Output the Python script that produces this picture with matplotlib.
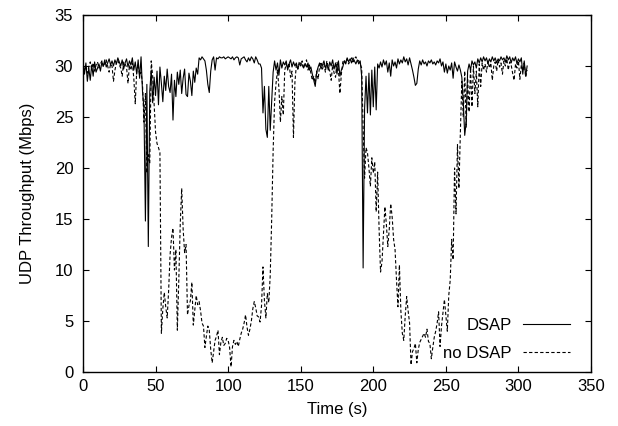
import numpy as np
import matplotlib
matplotlib.use("Agg")
import matplotlib.pyplot as plt


# ==========================================================
# DATA (1 sample per second)
# ==========================================================

t = np.arange(0, 307)

dsap = [
    30.5, 29.2, 30.3, 28.5, 29.8, 28.6, 30.1, 29.0, 30.4, 29.4,
    29.8, 30.2, 29.5, 30.4, 30.0, 30.6, 29.9, 30.3, 30.7, 30.1,
    30.5, 30.0, 30.6, 30.2, 30.8, 30.4, 30.0, 30.6, 29.7, 30.3,
    30.7, 29.9, 30.5, 30.1, 30.8, 29.6, 30.4, 29.2, 30.6, 28.8,
    30.9, 27.5, 25.8, 14.8, 28.2, 12.3, 27.5, 29.6, 26.4, 28.9,
    27.1, 29.5, 26.2, 29.9, 28.3, 26.5, 29.0, 27.6, 29.7, 28.0,
    27.4, 29.2, 24.7, 28.6, 27.0, 29.4, 28.2, 29.6, 27.3, 28.8,
    29.7, 27.2, 27.0, 29.3, 28.5, 27.1, 29.5, 28.4, 29.8, 29.2,
    30.8, 30.6, 30.9, 30.7, 30.5, 29.6, 28.2, 27.4, 29.5, 30.6,
    30.9, 29.6, 30.8, 30.7, 30.9, 30.8, 30.8, 30.9, 30.7, 30.8,
    30.9, 30.8, 30.7, 30.9, 30.6, 30.8, 30.9, 30.8, 30.1, 30.7,
    30.8, 30.9, 30.6, 30.4, 30.8, 30.5, 30.9, 30.7, 30.3, 30.9,
    30.6, 30.2, 30.2, 29.8, 25.4, 28.0, 23.8, 23.0, 28.0, 23.7,
    26.5, 29.4, 30.5, 29.6, 30.3, 29.1, 30.6, 29.8, 30.4, 30.1,
    30.5, 29.6, 30.2, 30.6, 29.9, 30.4, 30.0, 30.3, 29.7, 30.2,
    30.3, 30.1, 29.8, 30.2, 29.9, 30.3, 29.6, 29.9, 29.2, 28.6,
    28.0, 29.4, 29.9, 30.3, 29.7, 30.1, 30.5, 29.8, 30.2, 29.6,
    30.4, 30.0, 30.6, 29.7, 30.3, 29.2, 30.5, 29.0, 29.6, 29.9,
    30.5, 30.2, 30.8, 30.4, 30.7, 30.3, 30.8, 30.5, 30.2, 30.6,
    30.2, 30.5, 29.0, 10.2, 25.8, 29.0, 25.4, 29.3, 25.2, 29.6,
    26.0, 29.9, 25.7, 30.2, 29.8, 30.4, 29.9, 30.6, 30.1, 30.5,
    29.4, 30.3, 29.0, 30.6, 30.0, 30.4, 29.8, 30.7, 30.2, 30.6,
    30.3, 30.9, 30.4, 30.7, 30.1, 30.8, 30.2, 29.6, 28.9, 28.1,
    28.3, 29.7, 30.5, 30.1, 30.6, 30.2, 30.4, 30.0, 30.5, 30.3,
    30.6, 30.2, 30.4, 30.1, 30.5, 30.3, 30.7, 30.0, 30.4, 29.4,
    30.2, 29.3, 30.0, 29.6, 30.3, 28.8, 30.4, 29.9, 29.5, 30.1,
    29.6, 28.9, 26.5, 23.2, 24.5, 29.5, 30.2, 29.6, 30.5, 30.1,
    30.4, 29.8, 30.7, 30.3, 30.8, 30.4, 30.9, 30.5, 30.8, 30.2,
    30.7, 30.4, 30.9, 30.5, 30.8, 30.3, 30.7, 30.5, 30.9, 30.6,
    30.8, 30.4, 31.0, 30.6, 30.9, 30.3, 30.8, 30.5, 30.9, 30.2,
    30.7, 30.4, 30.8, 29.2, 30.5, 29.0, 30.0,
]

no_dsap = [
    30.2, 29.6, 30.0, 29.3, 29.9, 30.4, 29.7, 30.3, 29.5, 30.1,
    30.4, 29.8, 30.2, 30.5, 29.9, 30.3, 30.6, 30.0, 29.4, 30.2,
    30.0, 28.5, 29.6, 30.3, 30.6, 30.1, 29.8, 29.0, 30.4, 30.2,
    29.9, 28.3, 30.1, 29.6, 30.3, 28.8, 26.3, 29.5, 30.2, 29.1,
    29.4, 28.2, 24.5, 27.3, 19.5, 21.3, 20.4, 30.5, 29.0, 26.2,
    23.5, 22.4, 22.0, 21.5, 3.8, 6.2, 7.8, 6.4, 5.3, 8.0,
    11.5, 13.2, 14.1, 10.0, 12.0, 4.1, 9.0, 14.5, 18.0, 14.0,
    11.7, 12.5, 5.6, 6.5, 7.0, 8.8, 4.6, 6.0, 7.5, 6.6,
    6.9, 6.0, 4.8, 4.5, 2.4, 3.5, 4.5, 4.1, 2.2, 0.9,
    2.0, 3.1, 3.5, 4.1, 1.7, 2.9, 3.4, 2.6, 2.8, 3.3,
    3.1, 2.4, 0.5, 2.5, 3.1, 2.7, 3.0, 2.5, 3.2, 3.8,
    4.2, 4.8, 5.6, 4.4, 3.6, 4.2, 5.0, 6.2, 6.9, 6.3,
    5.5, 5.4, 4.9, 6.5, 10.3, 7.0, 5.3, 7.7, 6.8, 9.5,
    15.0, 21.7, 26.5, 28.3, 29.6, 27.8, 24.5, 27.0, 25.2, 29.6,
    30.2, 29.8, 30.3, 28.9, 29.5, 23.0, 28.4, 30.1, 29.7, 30.4,
    30.0, 30.5, 29.8, 30.2, 30.6, 29.6, 30.1, 29.3, 28.6, 29.0,
    28.3, 29.5, 28.7, 30.0, 30.4, 29.7, 30.2, 29.4, 30.5, 29.9,
    29.5, 28.6, 30.1, 29.3, 28.9, 30.4, 29.6, 27.3, 29.2, 30.4,
    30.6, 30.3, 30.7, 30.2, 30.5, 30.8, 30.4, 30.7, 30.9, 30.6,
    30.5, 30.2, 29.8, 24.0, 19.0, 22.0, 21.5, 20.0, 18.2, 21.0,
    19.5, 20.6, 15.7, 19.6, 14.0, 9.8, 10.8, 13.5, 16.2, 14.5,
    12.3, 14.0, 16.5, 15.2, 13.0, 12.0, 9.0, 6.4, 10.5, 6.0,
    3.8, 3.1, 5.5, 7.4, 6.0, 4.8, 0.7, 2.0, 2.3, 2.8,
    0.9, 2.2, 2.9, 3.2, 3.5, 3.8, 3.4, 4.2, 3.0, 2.8,
    1.3, 2.4, 3.4, 4.0, 4.8, 5.9, 2.5, 4.5, 5.8, 7.1,
    5.5, 4.0, 7.5, 9.0, 13.0, 11.0, 20.0, 15.5, 22.3, 18.0,
    23.5, 28.5, 25.0, 29.5, 24.0, 28.8, 25.5, 29.8, 26.0, 30.0,
    27.3, 29.5, 26.0, 30.2, 28.0, 30.3, 29.6, 30.2, 29.4, 30.5,
    29.8, 30.3, 28.6, 30.0, 30.4, 29.5, 30.6, 29.9, 30.3, 29.2,
    30.5, 30.0, 30.7, 29.6, 30.4, 30.1, 29.3, 28.6, 30.2, 29.8,
    30.5, 28.7, 30.1, 29.5, 30.3, 28.9, 29.6,
]

x_ticks = [0, 50, 100, 150, 200, 250, 300, 350]
y_ticks = [0, 5, 10, 15, 20, 25, 30, 35]


# ==========================================================
# PLOT
# ==========================================================

plt.rcParams["font.family"] = ["Liberation Sans", "DejaVu Sans"]
plt.rcParams["font.size"] = 12

fig = plt.figure(figsize=(6.18, 4.26), dpi=100)
ax = fig.add_axes([83 / 618, 54 / 426, 508 / 618, 357 / 426])

ax.plot(t, dsap, color="black", linewidth=0.8, label="DSAP")
ax.plot(t, no_dsap, color="black", linewidth=0.8,
        linestyle=(0, (3, 2)), label="no DSAP")

ax.set_xlim(0, 350)
ax.set_ylim(0, 35)
ax.set_xticks(x_ticks)
ax.set_yticks(y_ticks)

ax.tick_params(direction="in", top=True, right=True, length=4, width=0.8)
ax.tick_params(axis="y", pad=7)
ax.tick_params(axis="x", pad=5)
for s in ax.spines.values():
    s.set_linewidth(1.0)

ax.set_xlabel("Time (s)", labelpad=6)
ax.set_ylabel("UDP Throughput (Mbps)", labelpad=14)

ax.legend(loc="lower right", bbox_to_anchor=(0.972, 0.012),
          frameon=False, markerfirst=False, handlelength=2.8,
          handletextpad=0.7, labelspacing=0.8, borderaxespad=0)

fig.savefig("out.png", dpi=100)
